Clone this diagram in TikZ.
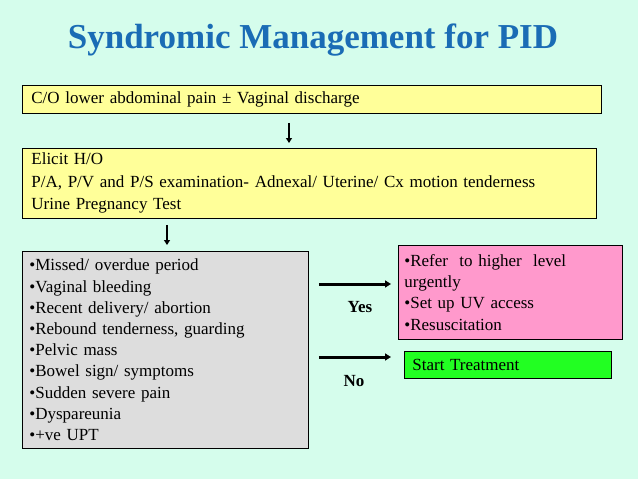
\documentclass[tikz,border=0pt]{standalone}
\usepackage{fontspec}
\setmainfont{Liberation Serif}
\usetikzlibrary{arrows.meta}
\definecolor{bgc}{HTML}{D5FDEC}
\definecolor{ylw}{HTML}{FFFF99}
\definecolor{gry}{HTML}{DDDDDD}
\definecolor{pnk}{HTML}{FF99CC}
\definecolor{grn}{HTML}{22FF22}
\definecolor{ttl}{HTML}{1A6CB5}
\begin{document}
\begin{tikzpicture}[x=1pt,y=-1pt,
  box/.style={draw=black, line width=0.8pt, anchor=north west, inner xsep=9pt, inner ysep=0pt,
    font=\fontsize{17}{21.2}\selectfont, align=left},
  darr/.style={line width=2pt, -{Triangle[length=5pt,width=6pt]}},
  harr/.style={line width=3pt, -{Triangle[length=6pt,width=7pt]}},
  lbl/.style={font=\fontsize{17}{20}\selectfont\bfseries}]
\fill[bgc] (0,0) rectangle (638,479);
\useasboundingbox (0,0) rectangle (638,479);
\node[font=\fontsize{35}{40}\selectfont\bfseries, text=ttl] (title) at (313,40) {Syndromic Management for PID};
\node[box, fill=ylw, minimum width=579, minimum height=28, text width=561] (b1) at (22,85)
  {C/O lower abdominal pain ± Vaginal discharge};
\node[box, fill=ylw, minimum width=574, minimum height=70, text width=556,
  font=\fontsize{17}{22.5}\selectfont] (b2) at (22,148)
  {Elicit H/O\\P/A, P/V and P/S examination- Adnexal/ Uterine/ Cx motion tenderness\\Urine Pregnancy Test};
\node[box, fill=gry, minimum width=286, minimum height=197, text width=272, inner xsep=6pt] (b3) at (22,251)
  {•Missed/ overdue period\\•Vaginal bleeding\\•Recent delivery/ abortion\\•Rebound tenderness, guarding\\•Pelvic mass\\•Bowel sign/ symptoms\\•Sudden severe pain\\•Dyspareunia\\•+ve UPT};
\node[box, fill=pnk, minimum width=224, minimum height=94, text width=212, inner xsep=6pt] (b4) at (398,245)
  {•Refer\ \ to higher\ \ level\\urgently\\•Set up UV access\\•Resuscitation};
\node[box, fill=grn, minimum width=207, minimum height=27, text width=191, inner xsep=8pt] (b5) at (404,351)
  {Start Treatment};
\coordinate (c1) at (289,0);
\coordinate (c2) at (167,0);
\coordinate (yy) at (0,284);
\coordinate (ny) at (0,357);
\coordinate (nend) at (391,357);
\draw[darr, shorten <=9pt, shorten >=5pt] (b1.south -| c1) -- (b2.north -| c1);
\draw[darr, shorten <=6pt, shorten >=6pt] (b2.south -| c2) -- (b3.north -| c2);
\draw[harr, shorten <=10pt, shorten >=7pt] (b3.east |- yy) -- (b4.west |- yy);
\draw[harr, shorten <=10pt] (b3.east |- ny) -- (nend);
\node[lbl] (yes) at (360,307) {Yes};
\node[lbl] (no) at (354,381) {No};
\end{tikzpicture}
\end{document}
